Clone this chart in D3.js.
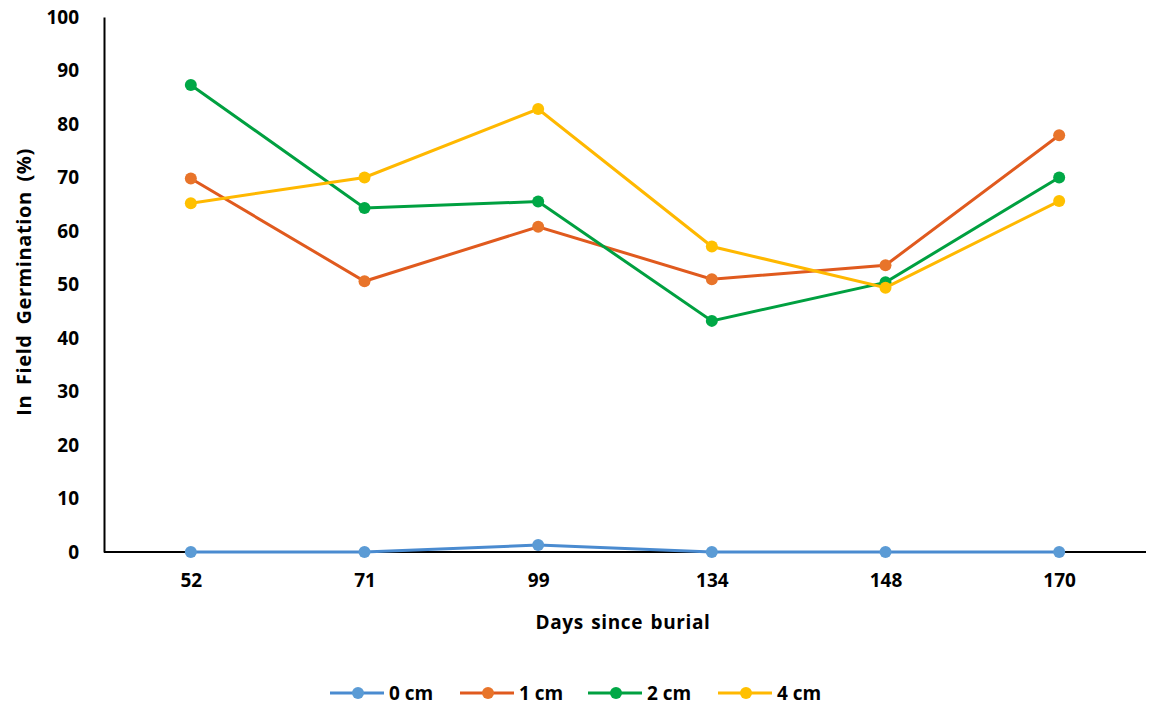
<!DOCTYPE html>
<html><head><meta charset="utf-8">
<script src="https://cdnjs.cloudflare.com/ajax/libs/d3/7.8.5/d3.min.js"></script>
<style>body{margin:0;background:#fff}svg{display:block}text{font-family:"Open Sans",Lato,sans-serif;font-weight:bold;fill:#000}</style>
</head><body><svg id="c" width="1152" height="706"></svg>
<script>
const categories = ["52","71","99","134","148","170"];
const seriesNames = ["0 cm","1 cm","2 cm","4 cm"];
const s0 = [0, 0, 1.3, 0, 0, 0];
const s1 = [69.8, 50.6, 60.8, 51.0, 53.6, 77.9];
const s2 = [87.3, 64.3, 65.5, 43.2, 50.4, 70.0];
const s3 = [65.2, 70.0, 82.8, 57.1, 49.4, 65.6];
const yTicks = [0,10,20,30,40,50,60,70,80,90,100];
const colors = ["#5B9BD5","#E8742A","#00A846","#FFC000"];
const lineColors = ["#4A8BD0","#E05A1E","#00A040","#FFB800"];
const seriesData = [s0,s1,s2,s3];

const svg = d3.select("#c");
const L=104, R=1146, T=17, B=552;
const x = d3.scalePoint().domain(categories).range([L,R]).padding(0.5);
const y = d3.scaleLinear().domain([0,100]).range([B,T]);
const FF = '"Open Sans",Lato,sans-serif';

// axes
const ya = svg.append("g").attr("transform",`translate(${L},0)`).call(d3.axisLeft(y).tickValues(yTicks).tickSize(0).tickPadding(25));
ya.select(".domain").attr("stroke","#000").attr("stroke-width",2);
ya.selectAll("text").style("font-size","19px").style("font-family",FF).style("font-weight","bold").style("fill","#000");
const xa = svg.append("g").attr("transform",`translate(0,${B})`).call(d3.axisBottom(x).tickSize(0).tickPadding(22));
xa.select(".domain").attr("stroke","#000").attr("stroke-width",2).attr("d",`M${L},0H${R}`);
xa.selectAll("text").style("font-size","19px").style("font-family",FF).style("font-weight","bold").style("fill","#000");

// series
const line = d3.line().x((d,i)=>x(categories[i])).y(d=>y(d));
seriesData.forEach((vals,k)=>{
  svg.append("path").datum(vals).attr("d",line).attr("fill","none").attr("stroke",lineColors[k]).attr("stroke-width",3);
  svg.selectAll(null).data(vals).enter().append("circle")
    .attr("cx",(d,i)=>x(categories[i])).attr("cy",d=>y(d)).attr("r",6).attr("fill",colors[k]);
});

// titles
svg.append("text").attr("x",623).attr("y",629).attr("text-anchor","middle").style("font-size","19px").style("letter-spacing","0.6px").style("word-spacing","2px").text("Days since burial");
svg.append("text").attr("transform","translate(31,282) rotate(-90)").attr("text-anchor","middle").style("font-size","20px").style("letter-spacing","0.6px").style("word-spacing","4px").text("In Field Germination (%)");

// legend
const legX = [330,460,588,718];
seriesNames.forEach((n,k)=>{
  const g = svg.append("g").attr("transform",`translate(${legX[k]},693)`);
  g.append("line").attr("x1",0).attr("x2",54).attr("stroke",lineColors[k]).attr("stroke-width",3);
  g.append("circle").attr("cx",28).attr("r",6).attr("fill",colors[k]);
  g.append("text").attr("x",59).attr("y",7).style("font-size","19px").text(n);
});
</script></body></html>
